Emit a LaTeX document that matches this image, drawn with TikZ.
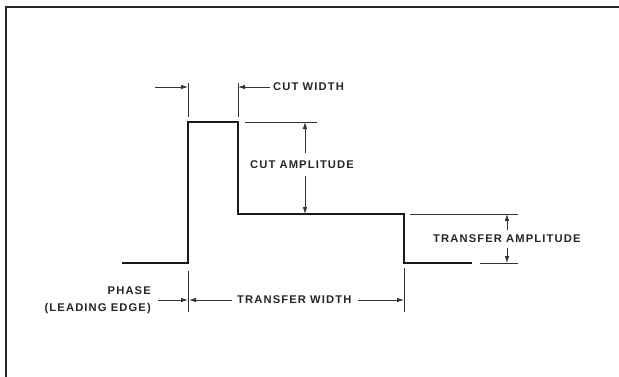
\documentclass[tikz,border=0pt]{standalone}
\usepackage{fontspec}
\setmainfont{Liberation Sans}
\usetikzlibrary{arrows.meta}
\begin{document}
\begin{tikzpicture}[x=1pt,y=-1pt,
  lbl/.style={font=\bfseries\fontsize{11.2}{17}\selectfont\addfontfeatures{LetterSpace=10}, inner sep=0pt, text=black!85},
  wave/.style={line width=2.4pt, line join=miter, black!90},
  dim/.style={line width=0.8pt, black!80},
  dimarrow/.style={dim, -{Latex[length=7pt,width=4.5pt]}},
  frameline/.style={line width=2pt, black!85}]
\useasboundingbox (0,0) rectangle (619,376);
% frame
\coordinate (fbl) at (6,380);
\coordinate (ftl) at (6,7);
\coordinate (ftr) at (625,7);
\draw[frameline] (fbl) -- (ftl) -- (ftr);
% waveform
\coordinate (b0) at (122,263);
\coordinate (r0) at (188,263);
\coordinate (r1) at (188,122);
\coordinate (f0) at (238,122);
\coordinate (f1) at (238,214);
\coordinate (t0) at (404,214);
\coordinate (t1) at (404,263);
\coordinate (e0) at (472,263);
\draw[wave] (b0) -- (r0) -- (r1) -- (f0) -- (f1) -- (t0) -- (t1) -- (e0);
% cut width
\coordinate (cw1a) at (188,83);
\coordinate (cw1b) at (188,117);
\coordinate (cw2a) at (238,83);
\coordinate (cw2b) at (238,117);
\draw[dim] (cw1a) -- (cw1b);
\draw[dim] (cw2a) -- (cw2b);
\coordinate (cwl) at (155,87);
\coordinate (cwlh) at (188,87);
\coordinate (cwrh) at (238,87);
\node[lbl, anchor=west] (cutwidth) at (273,87) {CUT WIDTH};
\draw[dimarrow] (cwl) -- (cwlh);
\draw[dimarrow] ([xshift=-3pt]cutwidth.west) -- (cwrh);
% cut amplitude
\coordinate (ca1) at (245,122);
\coordinate (ca2) at (317,122);
\draw[dim] (ca1) -- (ca2);
\node[lbl] (cutamp) at (302,165) {CUT AMPLITUDE};
\coordinate (caup) at (305,122);
\coordinate (cadn) at (305,214);
\coordinate (caus) at (305,153);
\coordinate (cads) at (305,176);
\draw[dimarrow] (caus) -- (caup);
\draw[dimarrow] (cads) -- (cadn);
% transfer amplitude
\coordinate (ta1) at (410,214);
\coordinate (ta2) at (518,214);
\coordinate (ta3) at (480,263);
\coordinate (ta4) at (518,263);
\draw[dim] (ta1) -- (ta2);
\draw[dim] (ta3) -- (ta4);
\node[lbl, anchor=west] (transamp) at (433,239) {TRANSFER AMPLITUDE};
\coordinate (taup) at (507,214);
\coordinate (tadn) at (507,263);
\coordinate (taus) at (507,230);
\coordinate (tads) at (507,248);
\draw[dimarrow] (taus) -- (taup);
\draw[dimarrow] (tads) -- (tadn);
% phase / transfer width
\coordinate (pe1) at (188,271);
\coordinate (pe2) at (188,312);
\coordinate (we1) at (404,268);
\coordinate (we2) at (404,312);
\draw[dim] (pe1) -- (pe2);
\draw[dim] (we1) -- (we2);
\node[lbl, anchor=east, align=right] (phase) at (151,300) {PHASE\\(LEADING EDGE)};
\coordinate (phs) at (158,300);
\coordinate (phh) at (188,300);
\coordinate (twlh) at (189,300);
\coordinate (twrh) at (404,300);
\node[lbl, anchor=west] (transwidth) at (237,300) {TRANSFER WIDTH};
\draw[dimarrow] (phs) -- (phh);
\draw[dimarrow] ([xshift=-5pt]transwidth.west) -- (twlh);
\draw[dimarrow] ([xshift=6pt]transwidth.east) -- (twrh);
\end{tikzpicture}
\end{document}
